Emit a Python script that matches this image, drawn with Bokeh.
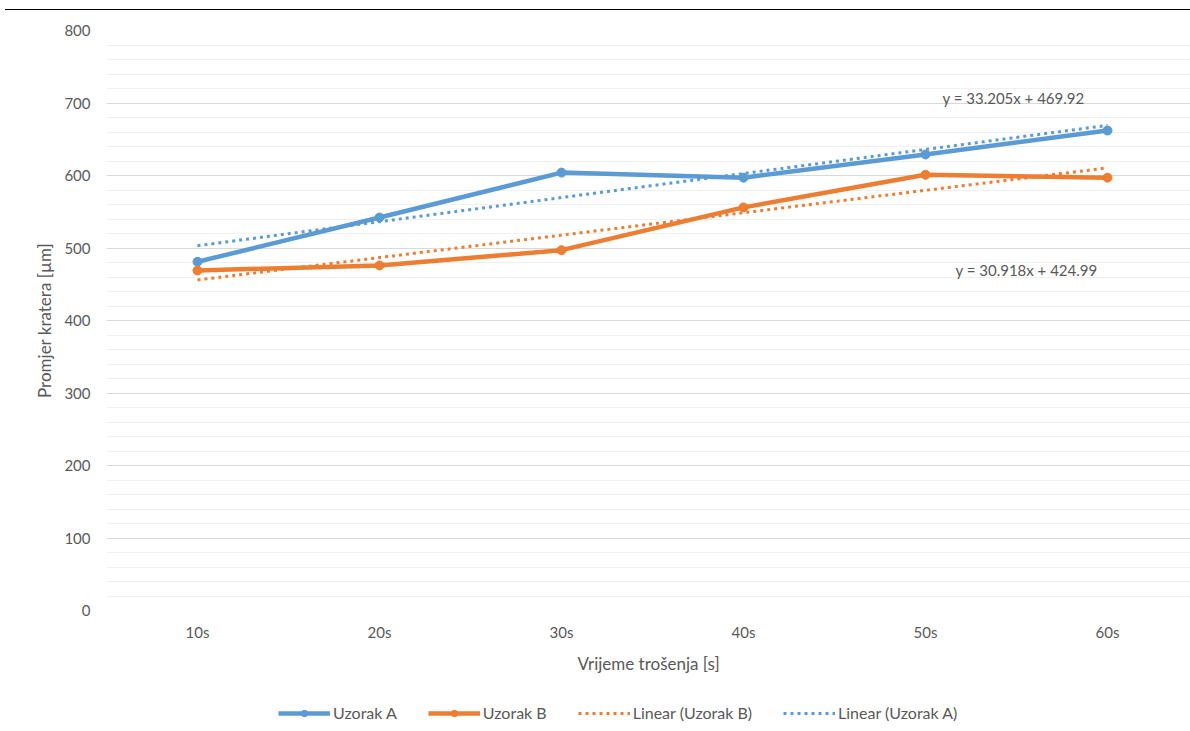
from bokeh.plotting import figure
from bokeh.layouts import column
from bokeh.models import (Range1d, FixedTicker, SingleIntervalTicker, Legend, LegendItem, Label, Div)
from bokeh.embed import file_html
from bokeh.resources import INLINE

# ---- data ----
categories = ["10s", "20s", "30s", "40s", "50s", "60s"]
x_idx = [1, 2, 3, 4, 5, 6]
uzorak_a = [481, 542, 604, 597, 629, 662]
uzorak_b = [469, 476, 497, 556, 601, 597]
slope_a, intercept_a = 33.205, 469.92
slope_b, intercept_b = 30.918, 424.99
trend_a = [slope_a * x + intercept_a for x in x_idx]
trend_b = [slope_b * x + intercept_b for x in x_idx]
label_a = "y = 33.205x + 469.92"
label_b = "y = 30.918x + 424.99"
series_names = ["Uzorak A", "Uzorak B", "Linear (Uzorak B)", "Linear (Uzorak A)"]

BLUE = "#5B9BD5"
ORANGE = "#ED7D31"
TEXT = "#595959"
FONT = "Lato"

W, HEAD_H, H, LEG_H = 1190, 10, 680, 41
LEFT, TOP, BOTTOM = 106, 20, 80
PX_PER_CAT = 182

# page header rule above the chart
head = Div(text="", width=W - 5, height=HEAD_H, margin=(0, 0, 0, 5),
           styles={"border-bottom": "1.5px solid #000", "box-sizing": "border-box"})

p = figure(width=W, height=H, output_backend="svg", toolbar_location=None,
           min_border_left=LEFT, min_border_right=0, min_border_top=TOP, min_border_bottom=BOTTOM,
           x_range=Range1d(0.5, 0.5 + (W - LEFT) / PX_PER_CAT), y_range=Range1d(0, 800))
p.outline_line_color = None
p.background_fill_color = "white"
p.border_fill_color = "white"

# axes
p.xaxis.ticker = FixedTicker(ticks=x_idx)
p.xaxis.major_label_overrides = {i: c for i, c in zip(x_idx, categories)}
p.yaxis.ticker = SingleIntervalTicker(interval=100, num_minor_ticks=5)
for ax in (p.xaxis[0], p.yaxis[0]):
    ax.axis_line_color = None
    ax.major_tick_line_color = None
    ax.minor_tick_line_color = None
    ax.major_label_text_font = FONT
    ax.major_label_text_font_size = "15px"
    ax.major_label_text_color = TEXT
    ax.axis_label_text_font = FONT
    ax.axis_label_text_font_size = "17px"
    ax.axis_label_text_font_style = "normal"
    ax.axis_label_text_color = TEXT
p.xaxis.axis_label = "Vrijeme trošenja [s]"
p.yaxis.axis_label = "Promjer kratera [µm]"
p.xaxis.major_label_standoff = 6
p.xaxis.axis_label_standoff = 9
p.yaxis.major_label_standoff = 10
p.yaxis.axis_label_standoff = 6

p.xgrid.grid_line_color = None
p.ygrid.grid_line_color = "#D9D9D9"
p.ygrid.grid_line_width = 1
p.ygrid.minor_grid_line_color = "#F0F0F0"
p.ygrid.minor_grid_line_width = 1

# series
p.line(x_idx, uzorak_a, line_color=BLUE, line_width=4.5, line_join="round", line_cap="round")
p.scatter(x_idx, uzorak_a, size=9, fill_color=BLUE, line_color=BLUE)
p.line(x_idx, uzorak_b, line_color=ORANGE, line_width=4.5, line_join="round", line_cap="round")
p.scatter(x_idx, uzorak_b, size=9, fill_color=ORANGE, line_color=ORANGE)
p.line(x_idx, trend_b, line_color=ORANGE, line_width=3, line_dash="3 4")
p.line(x_idx, trend_a, line_color=BLUE, line_width=3, line_dash="3 4")

# equation labels (screen offsets from the plot frame's bottom-left)
for txt, sx, sy in ((label_a, 836, 513), (label_b, 849, 341)):
    p.add_layout(Label(x=sx, y=sy, x_units="screen", y_units="screen", text=txt,
                       text_font=FONT, text_font_size="15px", text_color=TEXT,
                       text_baseline="middle", text_align="left"))

# legend strip below the chart; its glyph proxies use the same data, outside the strip's ranges
q = figure(width=W, height=LEG_H, output_backend="svg", toolbar_location=None,
           min_border=0, x_axis_location=None, y_axis_location=None,
           x_range=Range1d(0, 1), y_range=Range1d(0, 1))
q.outline_line_color = None
q.grid.grid_line_color = None
q.border_fill_color = "white"
ga1 = q.line(x_idx, uzorak_a, line_color=BLUE, line_width=4.5)
ga2 = q.scatter(x_idx, uzorak_a, size=9, fill_color=BLUE, line_color=BLUE)
gb1 = q.line(x_idx, uzorak_b, line_color=ORANGE, line_width=4.5)
gb2 = q.scatter(x_idx, uzorak_b, size=9, fill_color=ORANGE, line_color=ORANGE)
gtb = q.line(x_idx, trend_b, line_color=ORANGE, line_width=3, line_dash="3 4")
gta = q.line(x_idx, trend_a, line_color=BLUE, line_width=3, line_dash="3 4")

legend = Legend(items=[
    LegendItem(label=series_names[0], renderers=[ga1, ga2]),
    LegendItem(label=series_names[1], renderers=[gb1, gb2]),
    LegendItem(label=series_names[2], renderers=[gtb]),
    LegendItem(label=series_names[3], renderers=[gta]),
], orientation="horizontal", location=(172, 9))
legend.border_line_color = None
legend.background_fill_alpha = 0
legend.padding = 0
legend.margin = 0
legend.spacing = 31
legend.glyph_width = 52
legend.glyph_height = 16
legend.label_standoff = 3
legend.label_text_font = FONT
legend.label_text_font_size = "16px"
legend.label_text_color = TEXT
legend.label_height = 18
q.add_layout(legend, "center")

layout = column(head, p, q, spacing=0)
open("out.html", "w").write(file_html(layout, INLINE))
